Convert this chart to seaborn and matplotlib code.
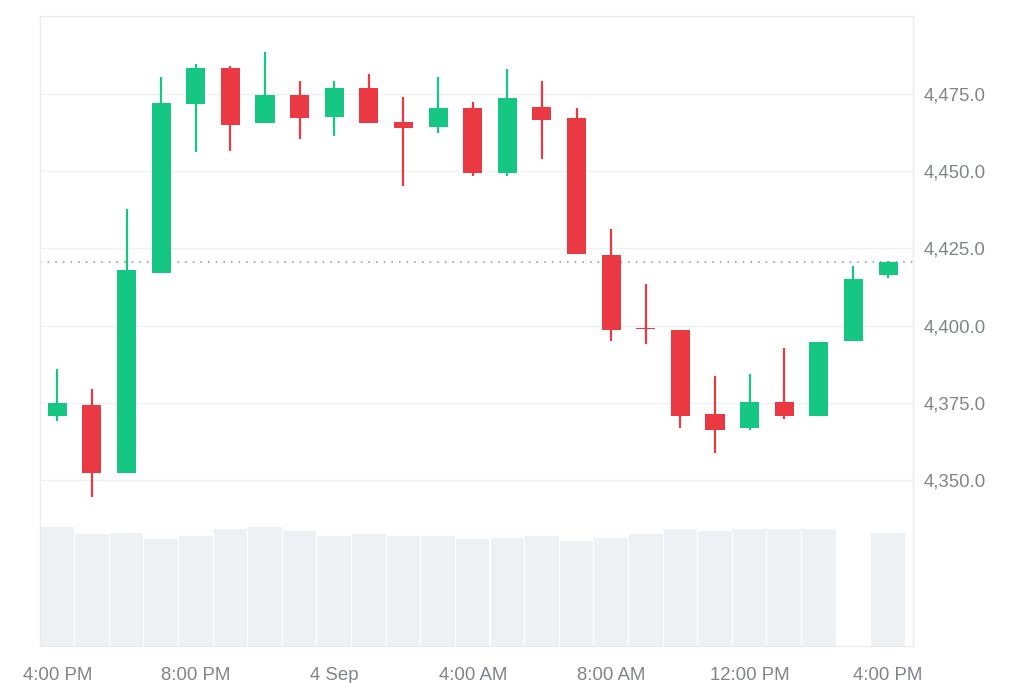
import matplotlib
matplotlib.use("Agg")
import matplotlib.pyplot as plt
import numpy as np
import pandas as pd
import seaborn as sns

# ---- data ----
tick_positions = [0, 4, 8, 12, 16, 20, 24]
tick_labels = ["4:00 PM", "8:00 PM", "4 Sep", "4:00 AM", "8:00 AM", "12:00 PM", "4:00 PM"]

open_ = [4370.7, 4374.2, 4352.4, 4417.0, 4471.8, 4483.6, 4465.5, 4474.8, 4467.7, 4477.0,
         4466.0, 4464.5, 4470.4, 4449.5, 4470.9, 4467.1, 4423.0, 4399.2, 4398.5, 4371.5,
         4366.7, 4375.3, 4370.7, 4394.9, 4416.5]
close = [4374.8, 4352.4, 4417.9, 4472.1, 4483.6, 4465.0, 4474.8, 4467.1, 4477.0, 4465.5,
         4463.9, 4470.4, 4449.5, 4473.7, 4466.6, 4423.1, 4398.7, 4398.8, 4370.7, 4366.2,
         4375.3, 4370.7, 4394.7, 4415.2, 4420.7]
high = [4385.9, 4379.3, 4437.8, 4480.4, 4484.7, 4484.2, 4488.7, 4479.3, 4479.3, 4481.5,
        4474.2, 4480.4, 4472.5, 4483.1, 4479.3, 4470.4, 4431.4, 4413.6, 4398.5, 4383.7,
        4384.3, 4392.6, 4394.7, 4419.2, 4421.0]
low = [4369.1, 4344.6, 4352.4, 4417.0, 4456.2, 4456.7, 4465.5, 4460.5, 4461.5, 4465.5,
       4445.2, 4462.3, 4448.4, 4448.4, 4454.0, 4423.1, 4394.9, 4393.9, 4366.7, 4358.6,
       4366.2, 4369.6, 4370.7, 4394.9, 4415.4]
volume = [119, 112, 113, 107, 110, 117, 119, 115, 110, 112, 110, 110, 107, 108, 110,
          105, 108, 112, 117, 115, 117, 117, 117, 0, 113]
price_ticks = [4350, 4375, 4400, 4425, 4450, 4475]

GREEN = "#16c784"
RED = "#ea3943"
VOL = "#eef1f4"
GRID = "#eff2f5"
BORDER = "#ebebeb"
TEXT = "#80848b"

sns.set_theme(style="white")
plt.rcParams["font.family"] = ["Liberation Sans", "DejaVu Sans"]

fig = plt.figure(figsize=(10.24, 6.83), dpi=100)
pos = [40 / 1024, 1 - 646 / 683, (913 - 40) / 1024, (646 - 16) / 683]

idx = np.arange(len(open_))
df = pd.DataFrame({"idx": idx, "open": open_, "close": close, "high": high,
                   "low": low, "volume": volume})
df["up"] = df["close"] >= df["open"]
df["color"] = np.where(df["up"], GREEN, RED)

# volume pane (behind)
vax = fig.add_axes(pos)
sns.barplot(data=df, x="idx", y="volume", color=VOL, saturation=1, width=0.97,
            ax=vax, native_scale=True, edgecolor="none", linewidth=0)
vax.set_xlim(-0.5, 24.72)
vax.set_ylim(0, max(volume) * 5.3)
vax.set_xticks([]); vax.set_yticks([])
vax.set_xlabel(""); vax.set_ylabel("")
for s in vax.spines.values():
    s.set_visible(False)

# price pane
ax = fig.add_axes(pos)
ax.patch.set_alpha(0)
ax.set_xlim(-0.5, 24.72)
ax.set_ylim(4296.2, 4500.3)
ax.set_yticks(price_ticks)
ax.grid(axis="y", color=GRID, lw=1)
ax.set_axisbelow(True)

ax.vlines(df["idx"], df["low"], df["high"], colors=df["color"], lw=1.6, zorder=3)
body_bottom = np.minimum(df["open"], df["close"])
body_h = np.maximum(np.abs(df["close"] - df["open"]), 0.45)
ax.bar(df["idx"], body_h, bottom=body_bottom, width=0.55, color=df["color"],
       edgecolor="none", zorder=4)

ax.axhline(close[-1], color="#8f8f8f", lw=1.1, ls=(0, (1, 4)), zorder=2)

ax.yaxis.tick_right()
ax.tick_params(axis="y", length=0, pad=7.5, labelsize=13.4, labelcolor=TEXT)
ax.set_yticklabels([f"{v:,.1f}" for v in price_ticks])
ax.set_xticks(tick_positions)
ax.set_xticklabels(tick_labels)
ax.tick_params(axis="x", length=0, pad=15, labelsize=13.4, labelcolor=TEXT)
for s in ax.spines.values():
    s.set_visible(True)
    s.set_color(BORDER)
    s.set_linewidth(1)

fig.savefig("out.png", dpi=100, facecolor="white")
